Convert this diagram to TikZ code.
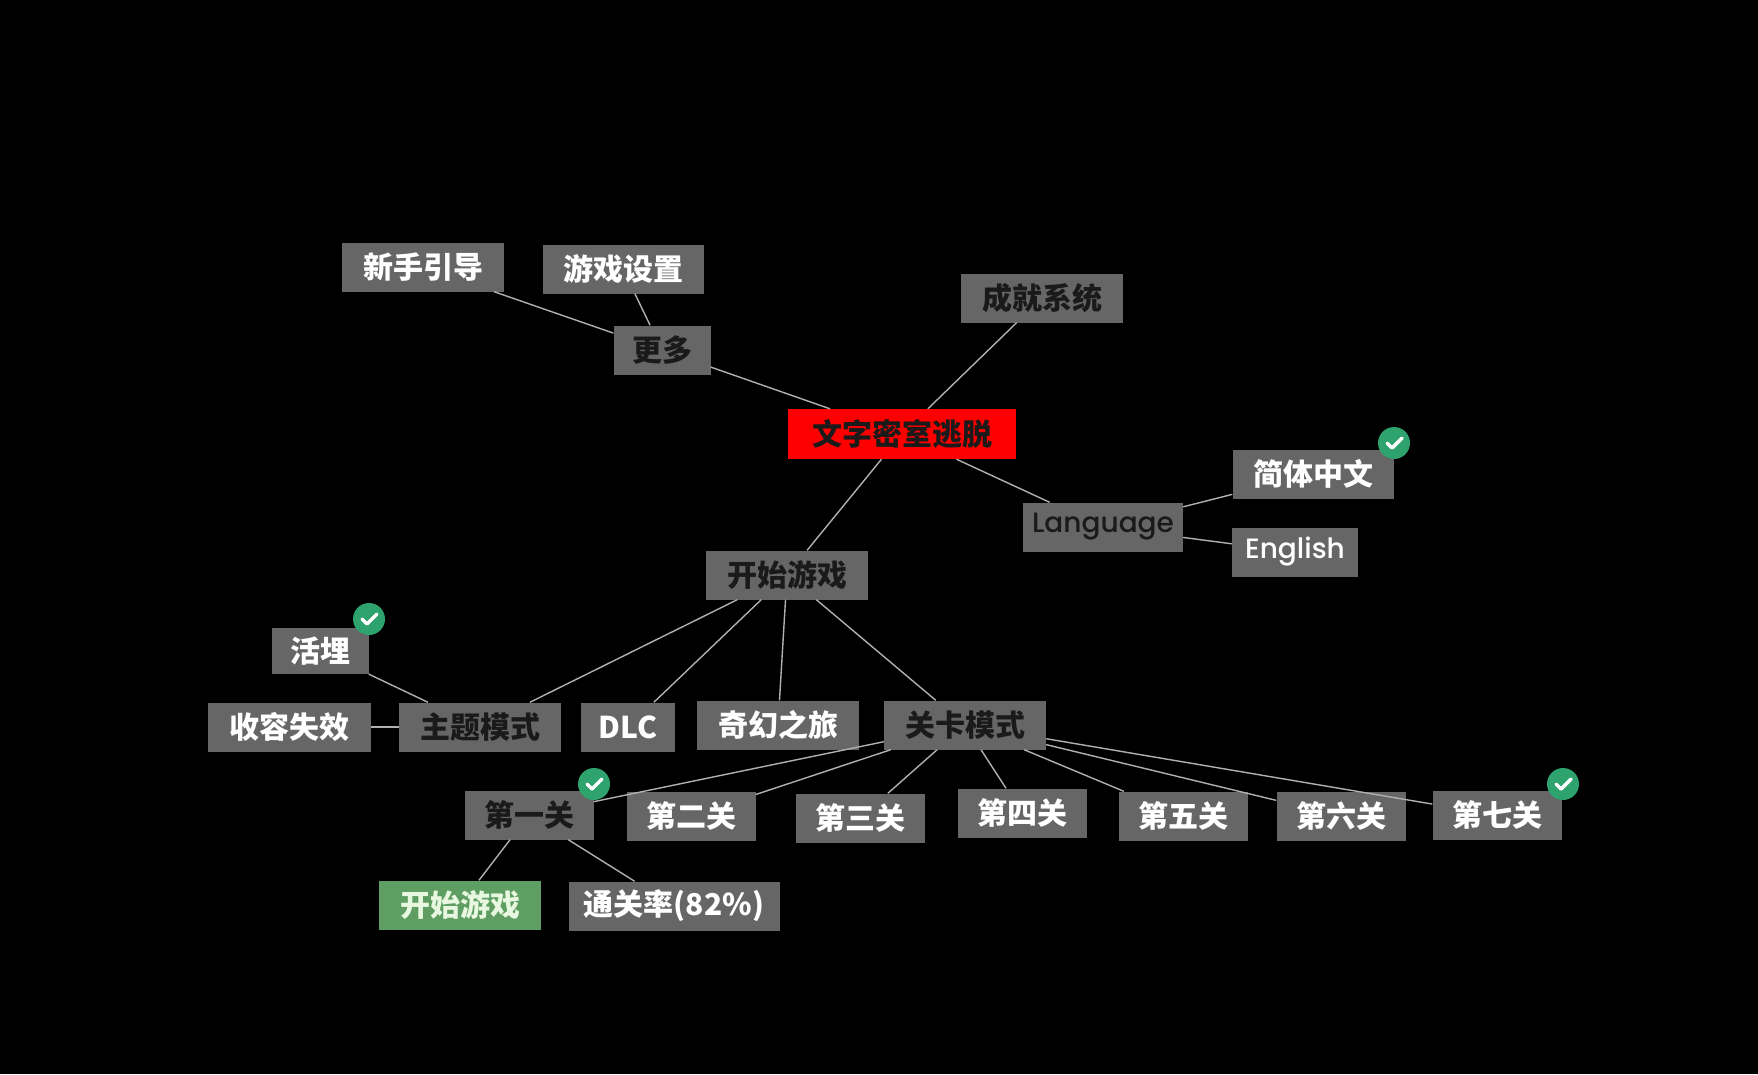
\documentclass[tikz,border=0pt]{standalone}
\usepackage{fontspec}
\newfontfamily\cjk{Noto Sans CJK SC}
\begin{document}
\begin{tikzpicture}[x=1pt,y=-1pt,
  box/.style={fill=boxgray,minimum height=49pt,inner xsep=4pt,font=\cjk\bfseries\fontsize{30}{32}\selectfont,text=white},
  dk/.style={text=darktext},
  lat/.style={font=\fontspec{Poppins Medium}\fontsize{28}{30}\selectfont},
  edge/.style={draw=linegray,line width=1.4pt},
  tick/.pic={\fill[checkgreen] (0,0) circle (16);
    \draw[white,line width=3.5pt,line cap=round,line join=round] (-7,0) -- (-2,5) -- (8,-5);}]
\definecolor{boxgray}{HTML}{666666}
\definecolor{darktext}{HTML}{1A1A1A}
\definecolor{linegray}{HTML}{B0B0B0}
\definecolor{checkgreen}{HTML}{2EA36E}
\definecolor{greenbox}{HTML}{5E9E62}
\definecolor{greentext}{HTML}{E8F8E0}
\fill[black] (0,0) rectangle (1758,1074);
\useasboundingbox (0,0) rectangle (1758,1074);
\node[box,minimum width=162pt] (xs) at (423,267) {新手引导};
\node[box,minimum width=161pt] (yx) at (623,269) {游戏设置};
\node[box,dk,minimum width=97pt] (gd) at (662,350) {更多};
\node[box,dk,minimum width=162pt] (cj) at (1042,298) {成就系统};
\node[box,dk,fill=red,minimum width=228pt,minimum height=50pt] (root) at (902,434) {文字密室逃脱};
\node[box,minimum width=161pt] (jt) at (1313,474) {简体中文};
\node[box,dk,lat,minimum width=160pt] (lang) at (1103,527) {Language};
\node[box,lat,minimum width=126pt] (en) at (1295,552) {English};
\node[box,dk,minimum width=162pt] (ks) at (787,575) {开始游戏};
\node[box,minimum width=97pt,minimum height=46pt] (hm) at (320,651) {活埋};
\node[box,minimum width=163pt] (sr) at (289,727) {收容失效};
\node[box,dk,minimum width=162pt] (zt) at (480,727) {主题模式};
\node[box,minimum width=94pt] (dlc) at (628,727) {DLC};
\node[box,minimum width=162pt] (qh) at (778,725) {奇幻之旅};
\node[box,dk,minimum width=162pt] (gk) at (965,725) {关卡模式};
\node[box,dk,minimum width=129pt] (l1) at (529,815) {第一关};
\node[box,minimum width=129pt] (l2) at (691,816) {第二关};
\node[box,minimum width=129pt] (l3) at (860,818) {第三关};
\node[box,minimum width=129pt] (l4) at (1022,813) {第四关};
\node[box,minimum width=129pt] (l5) at (1183,816) {第五关};
\node[box,minimum width=129pt] (l6) at (1341,816) {第六关};
\node[box,minimum width=129pt] (l7) at (1497,815) {第七关};
\node[box,fill=greenbox,text=greentext,minimum width=162pt] (gs) at (460,905) {开始游戏};
\node[box,minimum width=211pt] (tg) at (674,906) {通关率(82\%)};
\foreach \a/\b in {xs/gd,yx/gd,gd/root,cj/root,root/lang,lang/jt,lang/en,root/ks,ks/zt,ks/dlc,ks/qh,ks/gk,hm/zt,sr/zt,gk/l1,gk/l2,gk/l3,gk/l4,gk/l5,gk/l6,gk/l7,l1/gs,l1/tg}
  \draw[edge] (\a) -- (\b);
\pic at (1394,443) {tick};
\pic at (369,619) {tick};
\pic at (594,784) {tick};
\pic at (1563,784) {tick};
\end{tikzpicture}
\end{document}
